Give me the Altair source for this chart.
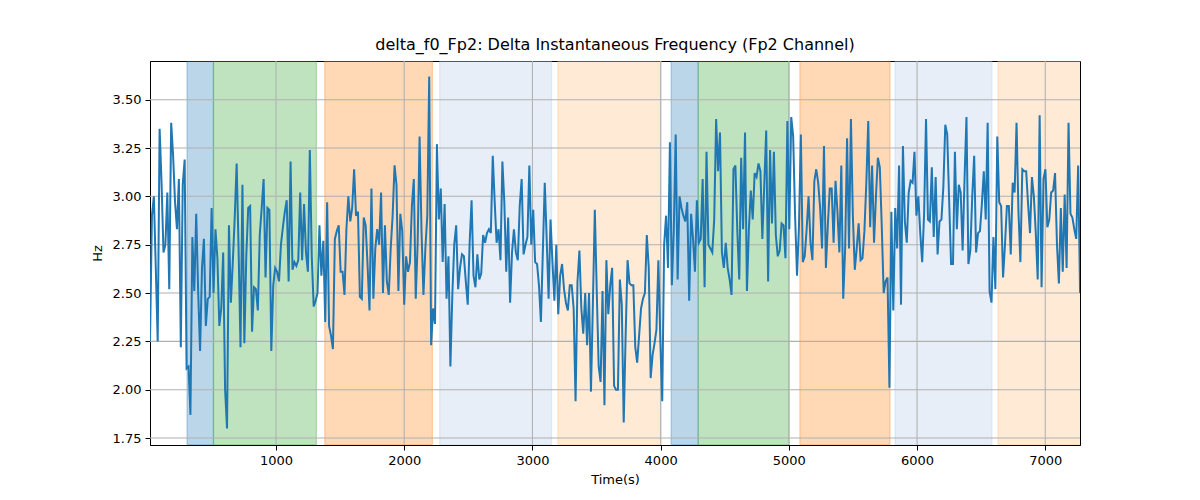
import altair as alt
import pandas as pd

# --- data ---
t_start = 17.0
t_step = 15.02

seg1 = [2.25, 2.90, 3.00, 2.63, 2.25, 3.35, 3.07, 2.71, 2.75, 3.02,
        2.52, 3.38, 3.21, 2.97, 2.83, 3.09, 2.22, 3.06, 3.19, 2.11,
        2.12, 1.87, 2.79, 2.51, 2.91, 2.51, 2.20, 2.63, 2.78, 2.33,
        2.47, 2.48, 2.94, 2.50, 2.83, 2.68, 2.33, 2.42, 2.71, 2.00,
        1.80, 2.85, 2.45, 2.66, 2.89, 3.17, 2.73, 2.22, 3.06, 2.24,
        2.69, 2.94, 2.95, 2.30, 2.53, 2.52, 2.41, 2.80, 2.94, 3.09,
        2.58, 2.94, 2.93, 2.20, 2.54, 2.63, 2.61, 2.56, 2.75, 2.84,
        2.92, 2.98, 2.56, 3.18, 2.62, 2.66, 2.64, 2.67, 3.02, 2.67,
        2.96, 2.71, 2.61, 3.24, 2.69, 2.43, 2.46, 2.50, 2.85, 2.59,
        2.77, 2.35, 2.97, 2.33, 2.28, 2.21, 2.78, 2.82, 2.85, 2.61,
        2.61, 2.49, 2.83, 3.00, 2.87, 2.94, 3.14, 2.90, 2.92, 2.48,
        2.47, 2.89, 2.85, 2.64, 2.41, 3.04, 2.47, 2.73, 2.83]
seg2 = [2.75, 3.02, 2.50, 2.85, 2.56, 2.49, 2.73, 2.90, 3.16, 3.06,
        2.51, 2.91, 2.82, 2.44, 2.69, 2.61, 2.66, 2.95, 3.09, 2.47,
        2.76, 3.31, 2.82, 2.49, 2.73, 2.90, 3.62, 2.23, 2.42, 2.34,
        3.27, 2.88, 3.04, 2.66, 2.96, 2.47, 2.69, 2.12, 2.49, 2.75,
        2.85, 2.52, 2.63, 2.70, 2.69, 2.56, 2.44, 2.76, 2.98, 2.59,
        2.53, 2.70, 2.57, 2.60, 2.80, 2.76, 2.81, 2.83, 2.81, 3.21,
        2.97, 2.76, 2.83, 2.67, 3.18, 2.97, 2.61, 2.89, 2.45, 2.71,
        2.83, 2.71, 2.67, 2.95, 3.09, 2.70, 2.75, 2.79, 3.16, 2.75,
        2.93, 2.66, 2.65, 2.54, 2.35, 2.71, 3.07, 2.78, 2.47, 2.88,
        2.66, 2.46, 2.75, 2.39, 2.59, 2.65, 2.52, 2.45, 2.41, 2.54,
        2.54, 2.42, 1.94, 2.56, 2.72, 2.42, 2.29, 2.50, 2.23, 2.50,
        1.99, 2.45, 2.93, 2.51, 2.12, 2.04, 2.51, 1.92, 2.67, 2.39]
seg3 = [2.54, 2.63, 2.02, 2.00, 2.00, 2.57, 2.44, 1.83, 2.28, 2.67,
        2.55, 2.54, 2.54, 2.22, 2.14, 2.28, 2.42, 2.47, 2.50, 2.80,
        2.63, 2.06, 2.18, 2.24, 2.31, 2.67, 2.26, 1.94, 2.75, 2.90,
        2.63, 3.28, 2.54, 2.82, 3.32, 2.57, 3.00, 2.94, 2.90, 2.87,
        2.97, 2.46, 2.91, 2.78, 2.61, 2.98, 2.76, 2.78, 3.09, 2.53,
        3.23, 2.75, 2.73, 2.71, 2.88, 3.40, 3.13, 3.33, 2.71, 2.63,
        2.76, 2.63, 2.57, 2.49, 3.14, 3.16, 2.82, 2.57, 3.20, 2.83,
        3.33, 2.51, 2.83, 3.03, 2.88, 3.12, 3.10, 3.17, 3.13, 2.78,
        3.06, 3.34, 2.56, 3.24, 2.86, 3.23, 2.80, 2.69, 2.72, 2.86,
        2.85, 2.68, 3.39, 2.83, 3.41, 3.31, 2.90, 2.59, 2.84, 3.32,
        2.66, 2.69, 2.83, 3.00, 2.76, 2.67, 3.08, 3.14, 3.07, 2.94,
        2.73, 3.26, 2.63, 2.85, 3.04, 3.04, 2.76, 3.08, 2.92, 2.71]
seg4 = [3.16, 2.47, 2.73, 3.30, 2.73, 3.40, 2.90, 2.62, 2.73, 2.86,
        2.67, 2.68, 2.82, 3.07, 3.39, 2.84, 3.16, 2.76, 3.00, 3.20,
        3.15, 2.85, 2.50, 2.56, 2.58, 2.01, 2.92, 2.41, 2.94, 2.73,
        3.16, 2.44, 3.26, 2.87, 2.76, 3.02, 3.08, 3.07, 3.23, 2.90,
        3.00, 2.81, 2.66, 2.91, 3.40, 2.88, 2.87, 3.15, 2.79, 3.10,
        2.70, 2.87, 2.88, 3.05, 3.37, 3.32, 2.98, 2.65, 2.65, 3.23,
        2.83, 3.06, 3.02, 2.72, 3.09, 3.41, 2.65, 2.72, 3.00, 3.21,
        2.71, 2.81, 2.82, 2.96, 3.13, 2.88, 3.38, 2.51, 2.45, 2.79,
        2.52, 3.31, 2.97, 2.95, 2.58, 2.75, 2.95, 2.95, 2.70, 3.07,
        3.02, 3.38, 2.92, 2.66, 3.14, 3.13, 3.13, 2.96, 2.81, 3.10,
        3.00, 2.81, 2.57, 3.42, 2.53, 3.09, 3.14, 2.84, 2.88, 3.02,
        3.03, 3.12, 2.75, 2.55, 2.94, 2.61, 3.01, 2.63, 3.38, 2.91,
        2.89, 2.83, 2.78, 3.16, 2.50]

span_start = [306, 512, 1380, 2277, 3198, 4082, 4293, 5086, 5828, 6631]
span_end = [512, 1315, 2220, 3149, 4005, 4293, 5003, 5789, 6584, 7300]
span_kind = ["a", "b", "c", "d", "e", "a", "b", "c", "d", "e"]
kind_names = ["a", "b", "c", "d", "e"]
kind_colors = ["#1f77b4", "#2ca02c", "#ff7f0e", "#aec7e8", "#ffbb78"]

x_ticks = [1000, 2000, 3000, 4000, 5000, 6000, 7000]
y_ticks = [1.75, 2.00, 2.25, 2.50, 2.75, 3.00, 3.25, 3.50]
x_domain = [17, 7271]
y_domain = [1.714, 3.70]

title_text = "delta_f0_Fp2: Delta Instantaneous Frequency (Fp2 Channel)"

# --- build tables ---
values = seg1 + seg2 + seg3 + seg4
line_df = pd.DataFrame({
    "t": [t_start + i * t_step for i in range(len(values))],
    "hz": values,
})
span_df = pd.DataFrame({"start": span_start, "end": span_end, "kind": span_kind})
xgrid_df = pd.DataFrame({"t": x_ticks})
ygrid_df = pd.DataFrame({"hz": y_ticks})

FONT = "DejaVu Sans"
xscale = alt.Scale(domain=x_domain, nice=False, zero=False)
yscale = alt.Scale(domain=y_domain, nice=False, zero=False)

common_axis = dict(grid=False, tickSize=5, tickWidth=1, tickColor="black",
                   domainColor="black", domainWidth=1, labelColor="black",
                   labelFontSize=13, labelFont=FONT, labelPadding=4,
                   titleFont=FONT, titleFontSize=13, titleFontWeight="normal",
                   titleColor="black", labelFlush=False)
x_axis = alt.Axis(title="Time(s)", values=x_ticks, format="d", titlePadding=6, **common_axis)
y_axis = alt.Axis(title="Hz", values=y_ticks, format=".2f", titlePadding=8, **common_axis)

spans = alt.Chart(span_df).mark_rect(fillOpacity=0.3, strokeOpacity=0.3, strokeWidth=1.3, clip=True).encode(
    x=alt.X("start:Q", scale=xscale, axis=x_axis),
    x2="end:Q",
    fill=alt.Fill("kind:N", scale=alt.Scale(domain=kind_names, range=kind_colors), legend=None),
    stroke=alt.Stroke("kind:N", scale=alt.Scale(domain=kind_names, range=kind_colors), legend=None),
)

xgrid = alt.Chart(xgrid_df).mark_rule(color="#b0b0b0", strokeWidth=1.05).encode(
    x=alt.X("t:Q", scale=xscale, axis=x_axis)
)
ygrid = alt.Chart(ygrid_df).mark_rule(color="#b0b0b0", strokeWidth=1.05).encode(
    y=alt.Y("hz:Q", scale=yscale, axis=y_axis)
)

line = alt.Chart(line_df).mark_line(color="#1f77b4", strokeWidth=2, clip=True).encode(
    x=alt.X("t:Q", scale=xscale, axis=x_axis),
    y=alt.Y("hz:Q", scale=yscale, axis=y_axis),
)

chart = alt.layer(spans, xgrid, ygrid, line).properties(
    width=930,
    height=384,
    title=alt.TitleParams(title_text, font=FONT, fontSize=16, fontWeight="normal",
                          color="black", offset=7),
    autosize=alt.AutoSizeParams(type="none"),
    padding={"left": 142, "top": 53, "right": 112, "bottom": 47},
).configure_view(stroke="black", strokeWidth=1)

chart.save("out.html", embed_options={"renderer": "svg", "actions": False})
